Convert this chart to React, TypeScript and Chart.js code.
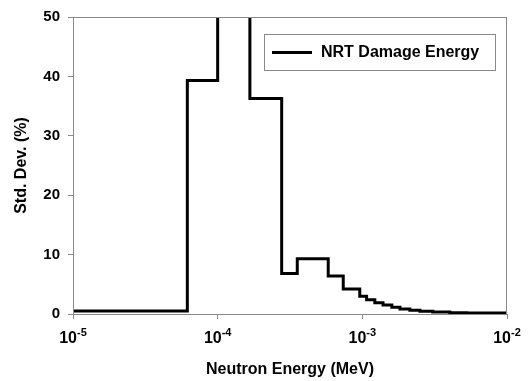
import React, { useEffect, useRef } from "react";
import { Chart, registerables } from "chart.js";

Chart.register(...registerables);

// Bin edges (MeV) and the std. dev. (%) value held over each bin
const binEdges: number[] = [
  1e-5, 6.17e-5, 1.0e-4, 1.67e-4, 2.77e-4, 3.55e-4, 5.81e-4, 7.38e-4, 9.6e-4,
  1.07e-3, 1.22e-3, 1.39e-3, 1.6e-3, 1.82e-3, 2.13e-3, 2.5e-3, 3.07e-3, 4.03e-3,
  5.28e-3, 1e-2,
];
const binValues: number[] = [
  0.5, 39.3, 80, 36.3, 6.8, 9.3, 6.4, 4.2, 3.0, 2.4, 1.9, 1.5, 1.15, 0.85, 0.62,
  0.45, 0.32, 0.22, 0.15,
];
const seriesLabel = "NRT Damage Energy";
const xTickExponents: number[] = [-5, -4, -3, -2];
const yTicks: number[] = [0, 10, 20, 30, 40, 50];
const xTitle = "Neutron Energy (MeV)";
const yTitle = "Std. Dev. (%)";

const FONT = "Arial, 'Liberation Sans', Helvetica, sans-serif";

export default function App() {
  const canvasRef = useRef<HTMLCanvasElement | null>(null);

  useEffect(() => {
    const canvas = canvasRef.current;
    if (!canvas) return;

    // point i starts bin i (held until point i+1); last point closes the final bin
    const points = binEdges.map((x, i) => ({
      x,
      y: binValues[Math.min(i, binValues.length - 1)],
    }));

    const framePlugin = {
      id: "frameAndExtras",
      afterDraw(chart: any) {
        const { ctx, chartArea } = chart;
        const { left, right, top, bottom } = chartArea;
        ctx.save();
        // plot frame
        ctx.strokeStyle = "#8a8a8a";
        ctx.lineWidth = 1;
        ctx.strokeRect(left + 0.5, top + 0.5, right - left - 1, bottom - top);

        // x tick labels with superscripts
        const xs = chart.scales.x;
        ctx.fillStyle = "#000";
        ctx.textBaseline = "alphabetic";
        xTickExponents.forEach((e) => {
          const px = xs.getPixelForValue(Math.pow(10, e));
          const base = "10";
          const sup = String(e);
          ctx.font = `bold 16px ${FONT}`;
          const wb = ctx.measureText(base).width;
          ctx.font = `bold 11px ${FONT}`;
          const ws = ctx.measureText(sup).width;
          const x0 = px - (wb + ws) / 2;
          ctx.font = `bold 16px ${FONT}`;
          ctx.textAlign = "left";
          ctx.fillText(base, x0, bottom + 29);
          ctx.font = `bold 11px ${FONT}`;
          ctx.fillText(sup, x0 + wb, bottom + 22);
        });

        // legend box
        const bx = right - 243;
        const by = top + 17;
        const bw = 231;
        const bh = 36;
        ctx.fillStyle = "#fff";
        ctx.fillRect(bx, by, bw, bh);
        ctx.strokeStyle = "#8a8a8a";
        ctx.lineWidth = 1;
        ctx.strokeRect(bx + 0.5, by + 0.5, bw, bh);
        ctx.strokeStyle = "#000";
        ctx.lineWidth = 3;
        ctx.beginPath();
        ctx.moveTo(bx + 8, by + 18.5);
        ctx.lineTo(bx + 48, by + 18.5);
        ctx.stroke();
        ctx.fillStyle = "#000";
        ctx.font = `bold 16px ${FONT}`;
        ctx.textAlign = "left";
        ctx.textBaseline = "middle";
        ctx.fillText(chart.data.datasets[0].label, bx + 57, by + 19);
        ctx.restore();
      },
    };

    const chart = new Chart(canvas, {
      type: "line",
      data: {
        datasets: [
          {
            label: seriesLabel,
            data: points,
            stepped: "before",
            borderColor: "#000",
            borderWidth: 3,
            pointRadius: 0,
            fill: false,
            clip: 0,
          } as any,
        ],
      },
      options: {
        animation: false,
        responsive: true,
        maintainAspectRatio: false,
        layout: { padding: { top: 10, right: 22, left: 0, bottom: 0 } },
        plugins: {
          legend: { display: false },
          tooltip: { enabled: false },
        },
        scales: {
          x: {
            type: "logarithmic",
            min: 1e-5,
            max: 1e-2,
            afterBuildTicks: (scale: any) => {
              scale.ticks = xTickExponents.map((e) => ({ value: Math.pow(10, e) }));
            },
            afterFit: (scale: any) => {
              scale.height = 67;
            },
            ticks: { display: false },
            grid: {
              display: true,
              drawOnChartArea: false,
              drawTicks: true,
              tickLength: 5,
              color: "#8a8a8a",
            },
            border: { display: true, color: "#8a8a8a" },
            title: {
              display: true,
              text: xTitle,
              color: "#000",
              font: { family: FONT, size: 16, weight: "bold" },
              padding: { top: 0, bottom: 2 },
            },
          },
          y: {
            min: 0,
            max: 50,
            afterBuildTicks: (scale: any) => {
              scale.ticks = yTicks.map((v) => ({ value: v }));
            },
            afterFit: (scale: any) => {
              scale.width = 73;
            },
            ticks: {
              color: "#000",
              padding: 8,
              font: { family: FONT, size: 15, weight: "bold" },
            },
            grid: {
              display: true,
              drawOnChartArea: false,
              drawTicks: true,
              tickLength: 5,
              color: "#8a8a8a",
            },
            border: { display: true, color: "#8a8a8a" },
            title: {
              display: true,
              text: yTitle,
              color: "#000",
              font: { family: FONT, size: 16, weight: "bold" },
              padding: { top: 12, bottom: 0 },
            },
          },
        },
      } as any,
      plugins: [framePlugin],
    });

    return () => chart.destroy();
  }, []);

  return (
    <div
      style={{
        position: "absolute",
        left: 0,
        top: 0,
        width: 529,
        height: 381,
        background: "#fff",
      }}
    >
      <canvas ref={canvasRef} />
    </div>
  );
}
